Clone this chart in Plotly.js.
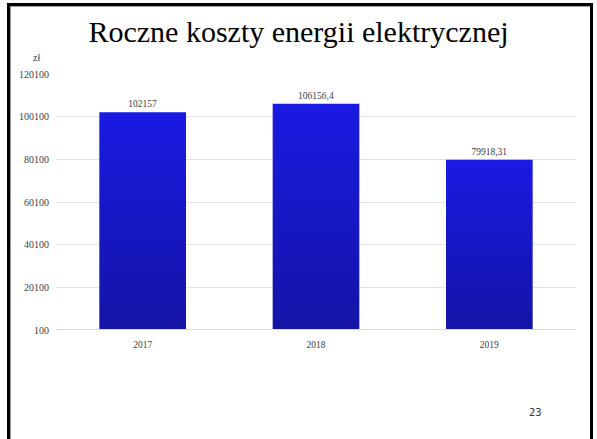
<!DOCTYPE html>
<html>
<head>
<meta charset="utf-8">
<script src="https://cdn.plot.ly/plotly-3.0.1.min.js"></script>
<style>
html,body{margin:0;padding:0;background:#fff;}
#wrap{position:relative;width:597px;height:439px;}
#chart{position:absolute;left:0;top:0;width:597px;height:439px;}
#frame{position:absolute;left:7px;top:3px;width:580px;height:433px;
border-left:3px solid #000;border-top:3px solid #000;border-right:3px solid #000;border-bottom:1px solid #d0d0d0;
box-shadow: inset 1px 1px 0 #a0a0a0;pointer-events:none;}
</style>
</head>
<body>
<div id="wrap"><div id="chart"></div><div id="frame"></div></div>
<script>
const categories = ["2017", "2018", "2019"];
const values = [102157, 106156.4, 79918.31];
const valueLabels = ["102157", "106156,4", "79918,31"];
const yTicks = [100, 20100, 40100, 60100, 80100, 100100, 120100];
const yTickLabels = ["100", "20100", "40100", "60100", "80100", "100100", "120100"];

const serif = "Liberation Serif, Times New Roman, serif";

const trace = {
  type: "bar",
  x: categories,
  y: values,
  text: valueLabels,
  textposition: "outside",
  cliponaxis: false,
  textfont: {family: serif, size: 9.5, color: "#404040"},
  marker: {color: "#1818c8", line: {width: 0}},
  hoverinfo: "none"
};

const layout = {
  width: 597, height: 439,
  margin: {l: 56, r: 21, t: 74, b: 109},
  paper_bgcolor: "#fff", plot_bgcolor: "#fff",
  showlegend: false,
  bargap: 0.5,
  title: {
    text: "Roczne koszty energii elektrycznej",
    font: {family: serif, size: 30, color: "#000"},
    x: 0.5, xanchor: "center", xref: "container",
    y: 1 - 31/439, yanchor: "middle", yref: "container"
  },
  xaxis: {
    type: "category",
    showgrid: false, zeroline: false, showline: false,
    ticks: "",
    ticklabelstandoff: 7,
    tickfont: {family: serif, size: 9.5, color: "#404040"}
  },
  yaxis: {
    range: [100, 120100],
    tickvals: yTicks, ticktext: yTickLabels,
    showgrid: true, gridcolor: "#e2e2e2", gridwidth: 1,
    zeroline: false, showline: false,
    ticks: "",
    ticklabelstandoff: 6,
    tickfont: {family: serif, size: 10, color: "#404040"}
  },
  shapes: [{
    type: "line", xref: "paper", yref: "y", x0: 0, x1: 1, y0: 100, y1: 100,
    line: {color: "#dcdcdc", width: 2}, layer: "above"
  }],
  annotations: [
    {text: "zł", xref: "paper", yref: "paper", x: (36 - 55.75) / 520.5, y: (330 - 57) / 256,
     xanchor: "center", yanchor: "middle", showarrow: false,
     font: {family: serif, size: 10, color: "#404040"}},
    {text: "23", xref: "paper", yref: "paper", x: (536 - 55.75) / 520.5, y: (330 - 412) / 256,
     xanchor: "center", yanchor: "middle", showarrow: false,
     font: {family: "DejaVu Sans, sans-serif", size: 10, color: "#333"}}
  ]
};

Plotly.newPlot("chart", [trace], layout, {staticPlot: true, displayModeBar: false}).then(function (gd) {
  const svg = gd.querySelector("svg.main-svg");
  const ns = "http://www.w3.org/2000/svg";
  let defs = svg.querySelector("defs");
  if (!defs) { defs = document.createElementNS(ns, "defs"); svg.insertBefore(defs, svg.firstChild); }
  const grad = document.createElementNS(ns, "linearGradient");
  grad.setAttribute("id", "barGrad");
  grad.setAttribute("x1", "0"); grad.setAttribute("y1", "0");
  grad.setAttribute("x2", "0"); grad.setAttribute("y2", "1");
  const s1 = document.createElementNS(ns, "stop");
  s1.setAttribute("offset", "0"); s1.setAttribute("stop-color", "#1a1ae2");
  const s2 = document.createElementNS(ns, "stop");
  s2.setAttribute("offset", "1"); s2.setAttribute("stop-color", "#1414a6");
  grad.appendChild(s1); grad.appendChild(s2); defs.appendChild(grad);
  gd.querySelectorAll(".bars .point path").forEach(function (p) {
    p.style.fill = "url(#barGrad)";
  });
});
</script>
</body>
</html>
